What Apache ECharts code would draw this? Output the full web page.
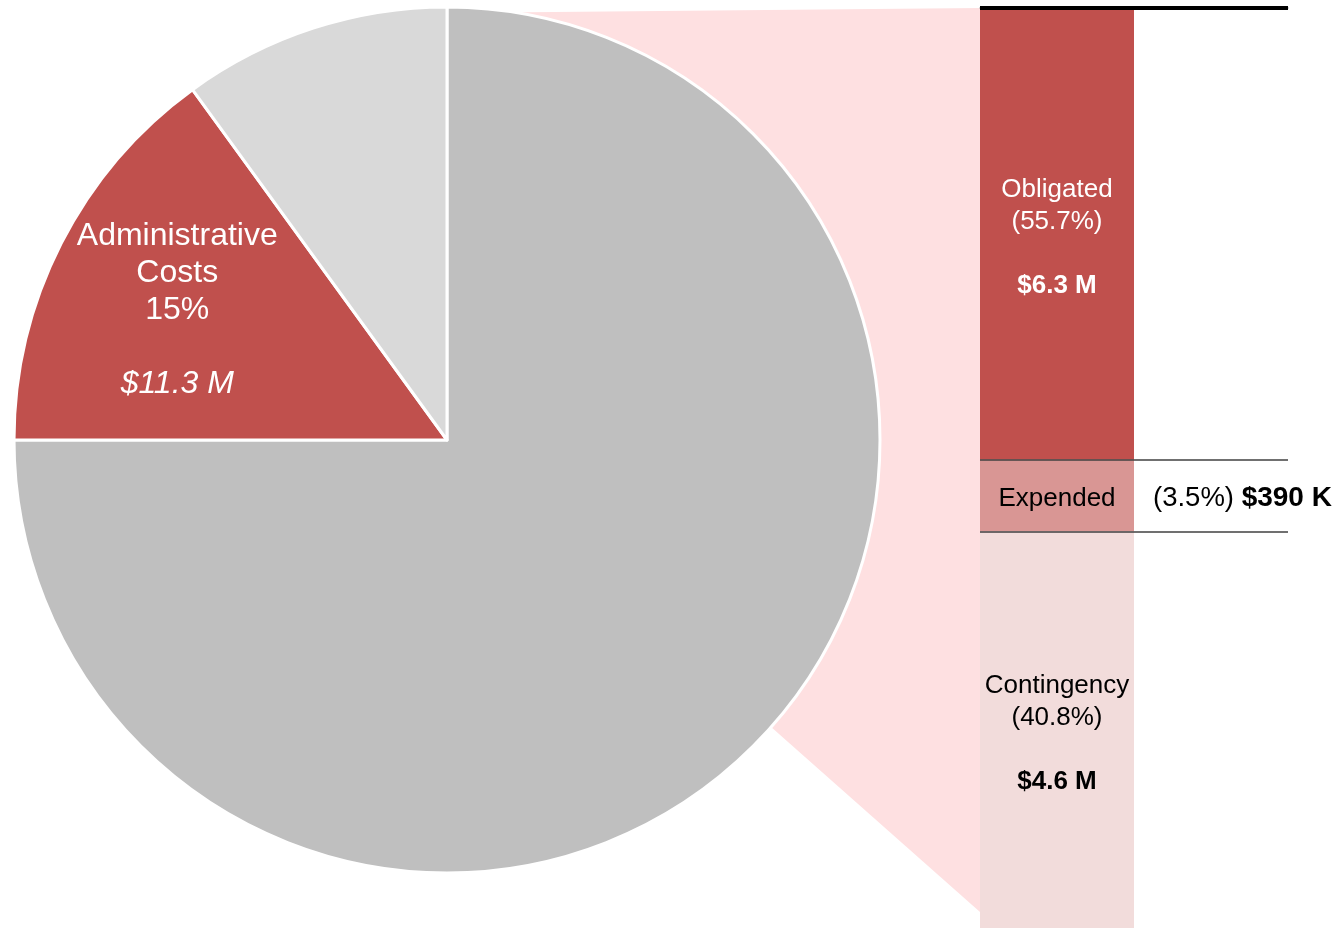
<!DOCTYPE html>
<html>
<head>
<meta charset="utf-8">
<script src="https://cdn.jsdelivr.net/npm/echarts@6/dist/echarts.min.js"></script>
<style>
  body { margin: 0; background: #fff; }
  #main { width: 1336px; height: 929px; }
</style>
</head>
<body>
<div id="main"></div>
<script>
// pie: share of total
const pieNames = ['Program Costs', 'Administrative Costs', 'Other'];
const pieValues = [75, 15, 10];
const pieColors = ['#BFBFBF', '#C0504D', '#D9D9D9'];
const adminAmount = '$11.3 M';

// breakdown bar of administrative costs (heights as drawn)
const barNames = ['Obligated', 'Expended', 'Contingency'];
const barHeights = [49.1, 7.8, 43.1];
const barPercents = ['55.7%', '3.5%', '40.8%'];
const barAmounts = ['$6.3 M', '$390 K', '$4.6 M'];
const barColors = ['#C0504D', '#D99694', '#F2DCDB'];
const barTextColors = ['#ffffff', '#000000', '#000000'];

const font = '"Liberation Sans", Arial, sans-serif';
const pieCx = 447, pieCy = 440, pieR = 433;
const gridLeft = 980, gridTop = 8, gridWidth = 308, gridHeight = 920;

let total = barHeights.reduce((a, b) => a + b, 0);
let cum = [];
let s = 0;
barHeights.forEach(v => { s += v; cum.push(s) });

// mid angle of admin slice
let pieSum = pieValues.reduce((a, b) => a + b, 0);
let before = pieValues[0];
let midDeg = 90 - (before + pieValues[1] / 2) / pieSum * 360;
let midRad = midDeg * Math.PI / 180;
let push = pieR * 0.2;

let chart = echarts.init(document.getElementById('main'));

const pieSeries = {
  type: 'pie',
  z: 5,
  center: [pieCx, pieCy],
  radius: [0, pieR],
  startAngle: 90,
  clockwise: true,
  avoidLabelOverlap: false,
  silent: true,
  itemStyle: { borderColor: '#ffffff', borderWidth: 3 },
  labelLine: { show: false },
  label: {
    position: 'inside',
    fontFamily: font,
    fontSize: 32,
    lineHeight: 37,
    color: '#ffffff',
    align: 'center',
    formatter(p) {
      let lines = p.name.split(' ').map(t => '{t|' + t + '}')
      lines.push('{t|' + p.percent + '%}')
      lines.push('')
      lines.push('{i|' + adminAmount + '}')
      return lines.join('\n')
    },
    rich: {
      t: { fontFamily: font, fontSize: 32, lineHeight: 37, color: '#ffffff' },
      i: { fontFamily: font, fontSize: 32, lineHeight: 37, color: '#ffffff', fontStyle: 'italic' }
    }
  },
  labelLayout(params) {
    if (params.dataIndex !== 1) return {}
    return { dx: Math.cos(midRad) * push + 3, dy: -Math.sin(midRad) * push + 9 }
  },
  data: pieNames.map((n, i) => ({
    name: n,
    value: pieValues[i],
    itemStyle: { color: pieColors[i] },
    label: { show: i === 1 }
  }))
};

const barSeries = barNames.map((n, i) => {
  let label
  if (i === 1) {
    label = {
      show: true,
      position: 'insideLeft',
      distance: 0,
      offset: [0, 3],
      formatter: '{e|' + n + '}{p|(' + barPercents[i] + ') }{m|' + barAmounts[i] + '}',
      rich: {
        e: { width: 154, align: 'center', fontFamily: font, fontSize: 26, color: '#000' },
        p: { fontFamily: font, fontSize: 27.5, color: '#000', padding: [0, 0, 0, 19] },
        m: { fontFamily: font, fontSize: 28, color: '#000', fontWeight: 'bold' }
      }
    }
  } else {
    let c = barTextColors[i]
    label = {
      show: true,
      position: 'inside',
      offset: [0, 4],
      lineHeight: 32,
      fontSize: 26,
      fontFamily: font,
      formatter: '{n|' + n + '}\n{n|(' + barPercents[i] + ')}\n\n{m|' + barAmounts[i] + '}',
      rich: {
        n: { fontFamily: font, fontSize: 26, lineHeight: 32, color: c, align: 'center' },
        m: { fontFamily: font, fontSize: 26, lineHeight: 32, color: c, fontWeight: 'bold', align: 'center' }
      }
    }
  }
  return {
    type: 'bar',
    name: n,
    stack: 'admin',
    barWidth: '100%',
    silent: true,
    itemStyle: { color: barColors[i] },
    label: label,
    data: [barHeights[i], '-']
  }
});

// separator lines
barSeries[2].markLine = {
  silent: true,
  symbol: 'none',
  label: { show: false },
  data: [
    { yAxis: 0, lineStyle: { color: '#000000', width: 4, type: 'solid' } },
    { yAxis: cum[0], lineStyle: { color: '#404040', width: 1.5, type: 'solid' } },
    { yAxis: cum[1], lineStyle: { color: '#404040', width: 1.5, type: 'solid' } }
  ]
};

const option = {
  animation: false,
  graphic: [{
    type: 'polygon',
    z: 0,
    silent: true,
    shape: {
      points: [
        [pieCx, pieCy],
        [pieCx, pieCy - pieR + 6],
        [gridLeft, gridTop],
        [gridLeft, gridTop + gridHeight - 16]
      ]
    },
    style: { fill: '#FEE0E1' }
  }],
  grid: { left: gridLeft, top: gridTop, width: gridWidth, height: gridHeight },
  xAxis: {
    type: 'category',
    data: ['', ''],
    axisLine: { lineStyle: { color: '#A6A6A6', width: 1.5 } },
    axisTick: { show: false },
    axisLabel: { show: false }
  },
  yAxis: {
    type: 'value',
    inverse: true,
    min: 0,
    max: total,
    show: false,
    splitLine: { show: false }
  },
  series: [pieSeries].concat(barSeries)
};

chart.setOption(option);
</script>
</body>
</html>
